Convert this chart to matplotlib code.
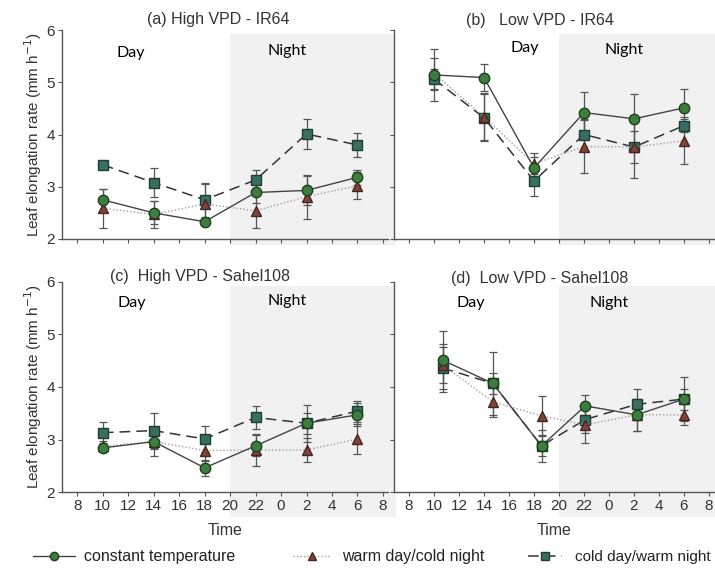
import matplotlib
matplotlib.use("Agg")
import matplotlib.pyplot as plt
from matplotlib.lines import Line2D
from matplotlib.patches import Rectangle
import matplotlib.transforms as mtransforms

plt.rcParams['font.family'] = ['Liberation Sans', 'DejaVu Sans']

## sampling times (hours, 24 -> 0 next day)
hours = [10, 14, 18, 22, 26, 30]
hours_d = [10.7, 14.7, 18.6, 22.1, 26.2, 30]
tick_hours = [8, 10, 12, 14, 16, 18, 20, 22, 24, 26, 28, 30, 32]
tick_labels = ['8', '10', '12', '14', '16', '18', '20', '22', '0', '2', '4', '6', '8']

## (a) High VPD - IR64
a_const = [2.75, 2.50, 2.33, 2.89, 2.93, 3.18]
a_const_err = [0.21, 0.22, 0.05, 0.20, 0.28, 0.15]
a_warm = [2.59, 2.47, 2.67, 2.54, 2.81, 3.02]
a_warm_err = [0.37, 0.25, 0.38, 0.32, 0.42, 0.26]
a_cold = [3.42, 3.08, 2.75, 3.13, 4.01, 3.80]
a_cold_err = [0.05, 0.28, 0.32, 0.20, 0.28, 0.23]

## (b) Low VPD - IR64
b_const = [5.14, 5.09, 3.36, 4.42, 4.30, 4.51]
b_const_err = [0.50, 0.25, 0.20, 0.40, 0.47, 0.36]
b_warm = [5.17, 4.34, 3.44, 3.77, 3.76, 3.88]
b_warm_err = [0.30, 0.45, 0.20, 0.50, 0.60, 0.45]
b_cold = [5.06, 4.32, 3.11, 4.00, 3.76, 4.17]
b_cold_err = [0.20, 0.45, 0.28, 0.30, 0.30, 0.12]

## (c) High VPD - Sahel108
c_const = [2.84, 2.96, 2.46, 2.88, 3.31, 3.47]
c_const_err = [0.05, 0.15, 0.15, 0.20, 0.20, 0.22]
c_warm = [2.87, 2.96, 2.79, 2.80, 2.80, 3.01]
c_warm_err = [0.10, 0.28, 0.20, 0.30, 0.22, 0.28]
c_cold = [3.13, 3.17, 3.01, 3.42, 3.31, 3.54]
c_cold_err = [0.20, 0.33, 0.25, 0.22, 0.35, 0.20]

## (d) Low VPD - Sahel108
d_const = [4.51, 4.07, 2.88, 3.64, 3.47, 3.77]
d_const_err = [0.55, 0.20, 0.20, 0.20, 0.30, 0.42]
d_warm = [4.42, 3.72, 3.45, 3.28, 3.47, 3.47]
d_warm_err = [0.35, 0.30, 0.38, 0.35, 0.30, 0.20]
d_cold = [4.36, 4.07, 2.88, 3.38, 3.67, 3.77]
d_cold_err = [0.45, 0.60, 0.30, 0.25, 0.30, 0.20]

## styles
styles = {
    "const": dict(ls='-', color='#444444', lw=1.0, marker='o', ms=7.5,
                  mfc='#3d7d3d', mec='#1f3f1f'),
    "warm": dict(ls=(0, (1, 1.5)), color='#a0a0a0', lw=1.0, marker='^', ms=7.5,
                 mfc='#7d4437', mec='#4a2420'),
    "cold": dict(ls=(0, (7, 4)), color='#333333', lw=1.1, marker='s', ms=7,
                 mfc='#3a6e60', mec='#1e3d33'),
}

fig = plt.figure(figsize=(7.15, 5.68), dpi=100)
W, H = 715, 568


def add_ax(x0, y_top, x1, y_bot):
    return fig.add_axes([x0 / W, 1 - y_bot / H, (x1 - x0) / W, (y_bot - y_top) / H])


panels = [
    (add_ax(62, 30, 388, 239), "(a) High VPD - IR64", (0.478, 1.05), hours,
     [(a_const, a_const_err, "const"), (a_warm, a_warm_err, "warm"), (a_cold, a_cold_err, "cold")],
     [(12.2, 5.56), (24.5, 5.6)], True, False),
    (add_ax(394, 30, 714, 239), "(b)   Low VPD - IR64", (0.456, 1.045), hours,
     [(b_const, b_const_err, "const"), (b_warm, b_warm_err, "warm"), (b_cold, b_cold_err, "cold")],
     [(17.3, 5.65), (25.2, 5.62)], False, False),
    (add_ax(62, 282, 388, 492), "(c)  High VPD - Sahel108", (0.423, 1.025), hours,
     [(c_const, c_const_err, "const"), (c_warm, c_warm_err, "warm"), (c_cold, c_cold_err, "cold")],
     [(12.3, 5.6), (24.5, 5.64)], True, True),
    (add_ax(394, 282, 714, 492), "(d)  Low VPD - Sahel108", (0.456, 1.015), hours_d,
     [(d_const, d_const_err, "const"), (d_warm, d_warm_err, "warm"), (d_cold, d_cold_err, "cold")],
     [(12.9, 5.6), (24.0, 5.6)], False, True),
]

for ax, title, tpos, xs, series, daynight, left, bottom in panels:
    ax.set_xlim(6.8, 32.4)
    ax.set_ylim(2, 6)
    for s in ['top', 'right']:
        ax.spines[s].set_visible(False)
    for s in ['left', 'bottom']:
        ax.spines[s].set_color('#555555')
        ax.spines[s].set_linewidth(1.0)

    ## night shading
    trans = mtransforms.blended_transform_factory(ax.transData, ax.transAxes)
    y0 = -0.12 if bottom else -0.03
    ax.add_patch(Rectangle((20, y0), 13, 0.98 - y0, transform=trans,
                           color='#f1f1f1', zorder=0, clip_on=False, lw=0))

    ## plot in reverse so circles sit on top
    for vals, err, key in series[::-1]:
        st = styles[key]
        ax.errorbar(xs, vals, yerr=err, fmt='none', ecolor='#555555',
                    elinewidth=0.9, capsize=3, capthick=0.9, zorder=2)
        ax.plot(xs, vals, zorder=3, **st)

    ax.text(tpos[0], tpos[1], title, transform=ax.transAxes, ha='center',
            va='center', fontsize=11.5, color='#333333')
    ax.text(daynight[0][0], daynight[0][1], "Day", fontsize=11.5, family='Lato',
            ha='center', va='center', color='black')
    ax.text(daynight[1][0], daynight[1][1], "Night", fontsize=11.5, family='Lato',
            ha='center', va='center', color='black')

    ax.set_yticks([2, 3, 4, 5, 6])
    ax.set_xticks(tick_hours)
    ax.tick_params(direction='out', length=3, color='#555555', labelsize=11,
                   labelcolor='#333333', pad=2)
    if left:
        ax.set_ylabel("Leaf elongation rate (mm h$^{-1}$)", fontsize=11,
                      color='#333333', labelpad=2)
    else:
        ax.set_yticklabels([])
    if bottom:
        ax.set_xticklabels(tick_labels)
        ax.set_xlabel("Time", fontsize=11.5, color='#333333', labelpad=7)
    else:
        ax.set_xticklabels([])

## legend, one per entry so the gaps match
leg_items = [
    ("const", "constant temperature", 33, 2.6, 0.6, 11.5),
    ("warm", "warm day/cold night", 293, 2.4, 0.7, 11.5),
    ("cold", "cold day/warm night", 528, 2.2, 0.9, 11.0),
]
for key, label, xpix, hl, pad, fs in leg_items:
    st = dict(styles[key])
    st['ms'] = 6
    h = Line2D([], [], **st)
    fig.legend([h], [label], loc='center left', bbox_to_anchor=(xpix / W, 1 - 557 / H),
               frameon=False, fontsize=fs, handlelength=hl, handletextpad=pad,
               borderaxespad=0, borderpad=0, labelcolor='#222222')

fig.savefig("out.png", dpi=100)
